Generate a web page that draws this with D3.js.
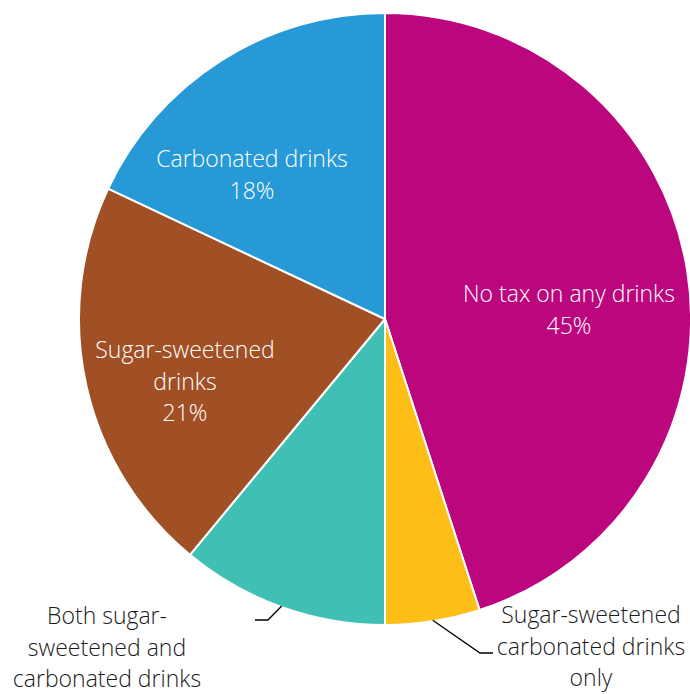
<!DOCTYPE html>
<html>
<head>
<meta charset="utf-8">
<script src="https://cdn.jsdelivr.net/npm/d3@7"></script>
<style>
  html, body { margin: 0; padding: 0; background: #fff; }
  svg { display: block; }
  text { font-family: "Open Sans", "Lato", sans-serif; font-weight: 300; }
</style>
</head>
<body>
<svg id="chart" width="690" height="694"></svg>
<script>
// Share of countries by type of drinks tax
const categories = [
  "No tax on any drinks",
  "Sugar-sweetened carbonated drinks only",
  "Both sugar-sweetened and carbonated drinks",
  "Sugar-sweetened drinks",
  "Carbonated drinks"
];
const shares = [45, 5, 11, 21, 18];
const sliceColors = ["#bb067d", "#fdbf17", "#40c0b5", "#a05024", "#2699d6"];
const labelLines = [
  ["No tax on any drinks", "45%"],
  ["Sugar-sweetened", "carbonated drinks", "only"],
  ["Both sugar-", "sweetened and", "carbonated drinks"],
  ["Sugar-sweetened", "drinks", "21%"],
  ["Carbonated drinks", "18%"]
];

const svg = d3.select("#chart");
const cx = 385, cy = 319, radius = 306;
const g = svg.append("g").attr("transform", `translate(${cx},${cy})`);

const pie = d3.pie().sort(null).value(d => d.value);
const arc = d3.arc().innerRadius(0).outerRadius(radius);
const data = categories.map((c, i) => ({ name: c, value: shares[i], color: sliceColors[i], lines: labelLines[i] }));
const arcs = pie(data);

g.selectAll("path.slice")
  .data(arcs)
  .join("path")
  .attr("class", "slice")
  .attr("d", arc)
  .attr("fill", d => d.data.color)
  .attr("stroke", "#fff")
  .attr("stroke-width", 2)
  .attr("stroke-linejoin", "round");

// Label placement (centre of first line of each text block)
const labelLayout = [
  { x: 569, y: 294, fill: "#fff" },
  { x: 591, y: 615, fill: "#1a1a1a" },
  { x: 107, y: 616, fill: "#1a1a1a" },
  { x: 185, y: 350, fill: "#fff" },
  { x: 252, y: 159, fill: "#fff" }
];
const lineGap = 31.5;

arcs.forEach((a, i) => {
  const L = labelLayout[i];
  const t = svg.append("text")
    .attr("text-anchor", "middle")
    .attr("font-size", 23)
    .attr("fill", L.fill);
  a.data.lines.forEach((ln, k) => {
    t.append("tspan")
      .attr("x", L.x)
      .attr("y", L.y + k * lineGap)
      .attr("dy", "0.35em")
      .text(ln);
  });
});

// Leader lines for the two small slices, starting on the slice rim
function edgePoint(a, frac) {
  const ang = a.startAngle + (a.endAngle - a.startAngle) * frac;
  return [cx + Math.sin(ang) * (radius - 1), cy - Math.cos(ang) * (radius - 1)];
}
const leaders = [
  { idx: 1, frac: 0.5, bend: [480, 653], end: [493, 653] },
  { idx: 2, frac: 0.5, bend: [268, 620], end: [255, 620] }
];
leaders.forEach(l => {
  const p = edgePoint(arcs[l.idx], l.frac);
  svg.append("path")
    .attr("d", d3.line()([p, l.bend, l.end]))
    .attr("fill", "none")
    .attr("stroke", "#000")
    .attr("stroke-width", 1.3);
});
</script>
</body>
</html>
